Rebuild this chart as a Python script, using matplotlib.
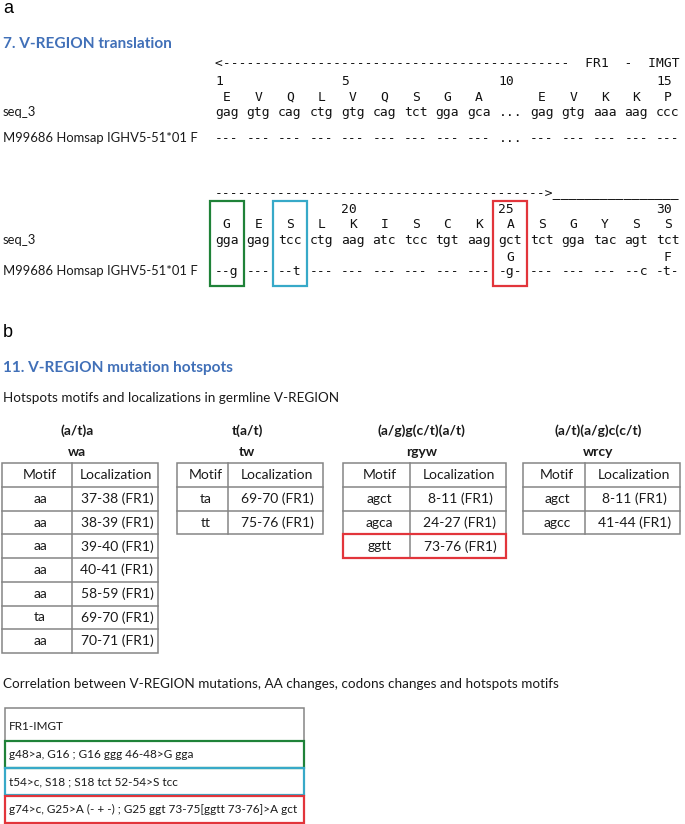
import matplotlib
matplotlib.use("Agg")
import matplotlib.pyplot as plt
from matplotlib.patches import Rectangle

plt.rcParams["font.family"] = ["Lato", "DejaVu Sans"]

# --- panel a: V-REGION translation (IMGT positions 1-30) ---
SEQ_LABEL = "seq_3"
GERM_LABEL = "M99686 Homsap IGHV5-51*01 F"

row1_pos = [1, 2, 3, 4, 5, 6, 7, 8, 9, 10, 11, 12, 13, 14, 15]
row1_aa = ["E", "V", "Q", "L", "V", "Q", "S", "G", "A", "", "E", "V", "K", "K", "P"]
row1_codons = ["gag", "gtg", "cag", "ctg", "gtg", "cag", "tct", "gga", "gca", "...",
               "gag", "gtg", "aaa", "aag", "ccc"]
row1_germ = ["---", "---", "---", "---", "---", "---", "---", "---", "---", "...",
             "---", "---", "---", "---", "---"]
row1_numbers = [1, 5, 10, 15]

row2_pos = [16, 17, 18, 19, 20, 21, 22, 23, 24, 25, 26, 27, 28, 29, 30]
row2_aa = ["G", "E", "S", "L", "K", "I", "S", "C", "K", "A", "S", "G", "Y", "S", "S"]
row2_codons = ["gga", "gag", "tcc", "ctg", "aag", "atc", "tcc", "tgt", "aag", "gct",
               "tct", "gga", "tac", "agt", "tct"]
row2_germ_aa = ["", "", "", "", "", "", "", "", "", "G", "", "", "", "", "F"]
row2_germ = ["--g", "---", "--t", "---", "---", "---", "---", "---", "---", "-g-",
             "---", "---", "---", "--c", "-t-"]
row2_numbers = [20, 25, 30]

highlight_pos = [16, 18, 25]

# --- panel b: hotspot tables ---
hotspot_patterns = ["(a/t)a", "t(a/t)", "(a/g)g(c/t)(a/t)", "(a/t)(a/g)c(c/t)"]
hotspot_codes = ["wa", "tw", "rgyw", "wrcy"]

wa_motif = ["aa", "aa", "aa", "aa", "aa", "ta", "aa"]
wa_loc = ["37-38 (FR1)", "38-39 (FR1)", "39-40 (FR1)", "40-41 (FR1)",
          "58-59 (FR1)", "69-70 (FR1)", "70-71 (FR1)"]
tw_motif = ["ta", "tt"]
tw_loc = ["69-70 (FR1)", "75-76 (FR1)"]
rgyw_motif = ["agct", "agca", "ggtt"]
rgyw_loc = ["8-11 (FR1)", "24-27 (FR1)", "73-76 (FR1)"]
wrcy_motif = ["agct", "agcc"]
wrcy_loc = ["8-11 (FR1)", "41-44 (FR1)"]
rgyw_highlight = "ggtt"

corr_header = "FR1-IMGT"
corr_rows = ["g48>a, G16 ; G16 ggg 46-48>G gga",
             "t54>c, S18 ; S18 tct 52-54>S tcc",
             "g74>c, G25>A (- + -) ; G25 ggt 73-75[ggtt 73-76]>A gct"]

# colours
BLUE = "#4170b8"
GREEN = "#1f8238"
CYAN = "#37a9c8"
RED = "#e2353b"
GRID = "#858585"
HL_COLORS = [GREEN, CYAN, RED]

MONO = "DejaVu Sans Mono"
MONO_PT = 9.4
X0 = 215.0
CW = 7.875          # width of one monospace character in px
GROUP = 4 * CW      # codon + space

BODY_PT = 9.7
TABLE_PT = 10.0
TITLE_PT = 11.1
BOX_PT = 8.5

fig = plt.figure(figsize=(6.85, 8.24), dpi=100)
ax = fig.add_axes([0, 0, 1, 1])
ax.set_xlim(0, 685)
ax.set_ylim(824, 0)
ax.axis("off")


def gx(i):
    return X0 + i * GROUP


def gc(i):
    return gx(i) + 1.5 * CW


def mono(x, y, s, ha="left"):
    ax.text(x, y, s, family=MONO, fontsize=MONO_PT, ha=ha, va="baseline", color="#111111")


def label(x, y, s, size=BODY_PT, weight="normal", color="#1a1a1a", ha="left"):
    ax.text(x, y, s, fontsize=size, fontweight=weight, color=color, ha=ha, va="center")


def draw_block(pos, aa, codons, germ, numbers, ys, germ_aa=None):
    for n in numbers:
        mono(gx(pos.index(n)), ys["num"], str(n))
    for i in range(len(pos)):
        if aa[i]:
            mono(gc(i), ys["aa"], aa[i], ha="center")
        mono(gc(i), ys["codon"], codons[i], ha="center")
        mono(gc(i), ys["germ"], germ[i], ha="center")
        if germ_aa and germ_aa[i]:
            mono(gc(i), ys["germ_aa"], germ_aa[i], ha="center")
    ax.text(3, ys["codon"], SEQ_LABEL, fontsize=9.4, va="baseline", color="#1a1a1a")
    ax.text(3, ys["germ"], GERM_LABEL, fontsize=9.4, va="baseline", color="#1a1a1a")


# ---- panel a ----
ax.text(3, 8, "a", family="Liberation Sans", fontsize=13, va="center")
label(3, 44, "7. V-REGION translation", size=TITLE_PT, weight="bold", color=BLUE)

mono(X0, 67, "<" + "-" * 44 + "  FR1  -  IMGT")
draw_block(row1_pos, row1_aa, row1_codons, row1_germ, row1_numbers,
           {"num": 85, "aa": 101, "codon": 116, "germ": 142})

mono(X0, 197, "-" * 42 + ">" + "_" * 16)
draw_block(row2_pos, row2_aa, row2_codons, row2_germ, row2_numbers,
           {"num": 213, "aa": 228, "codon": 244, "germ_aa": 261, "germ": 275},
           germ_aa=row2_germ_aa)

for p, col in zip(highlight_pos, HL_COLORS):
    i = row2_pos.index(p)
    ax.add_patch(Rectangle((gc(i) - 17, 201), 34, 85, fill=False, ec=col, lw=1.6))

# ---- panel b ----
ax.text(3, 332, "b", family="Liberation Sans", fontsize=13, va="center")
label(3, 368, "11. V-REGION mutation hotspots", size=TITLE_PT, weight="bold", color=BLUE)
label(3, 398, "Hotspots motifs and localizations in germline V-REGION")


def draw_table(left, mid, right, pattern, code, motifs, locs, highlight=None):
    top, head_h, row_h = 463, 24, 23.7
    bottom = top + head_h + row_h * len(motifs)
    cx = (left + right) / 2
    label(cx - 3, 431, pattern, size=TABLE_PT, weight="bold", ha="center")
    label(cx - 3, 452, code, size=TABLE_PT, weight="bold", ha="center")
    ax.add_patch(Rectangle((left, top), right - left, bottom - top, fill=False, ec=GRID, lw=1.1))
    ax.plot([mid, mid], [top, bottom], color=GRID, lw=1.1)
    for k in range(len(motifs)):
        y = top + head_h + row_h * k
        ax.plot([left, right], [y, y], color=GRID, lw=1.1)
    label((left + mid) / 2 + 3, top + head_h / 2, "Motif", size=TABLE_PT, ha="center")
    label((mid + right) / 2 + 1, top + head_h / 2, "Localization", size=TABLE_PT, ha="center")
    for k, (m, loc) in enumerate(zip(motifs, locs)):
        y = top + head_h + row_h * (k + 0.5)
        label((left + mid) / 2 + 3, y, m, size=TABLE_PT, ha="center")
        label((mid + right) / 2 + 2, y, loc, size=TABLE_PT, ha="center")
        if m == highlight:
            ax.add_patch(Rectangle((left, y - row_h / 2), right - left, row_h,
                                   fill=False, ec=RED, lw=1.6, zorder=3))


draw_table(2, 72, 158, hotspot_patterns[0], hotspot_codes[0], wa_motif, wa_loc)
draw_table(177, 228, 323, hotspot_patterns[1], hotspot_codes[1], tw_motif, tw_loc)
draw_table(343, 410, 506, hotspot_patterns[2], hotspot_codes[2], rgyw_motif, rgyw_loc,
           highlight=rgyw_highlight)
draw_table(523, 585, 680, hotspot_patterns[3], hotspot_codes[3], wrcy_motif, wrcy_loc)

label(3, 684, "Correlation between V-REGION mutations, AA changes, codons changes and hotspots motifs")

# correlation box
box_l, box_r, box_t = 5, 304, 708
ax.add_patch(Rectangle((box_l, box_t), box_r - box_l, 823 - box_t, fill=False, ec=GRID, lw=1.1))
label(box_l + 4, box_t + 19, corr_header, size=BOX_PT)
row_tops = [741, 768, 796]
for t, txt, col in zip(row_tops, corr_rows, HL_COLORS):
    ax.add_patch(Rectangle((box_l, t), box_r - box_l, 26.5, fill=False, ec=col, lw=1.6, zorder=3))
    label(box_l + 4, t + 13.5, txt, size=BOX_PT)

fig.savefig("out.png", dpi=100)
plt.close(fig)
